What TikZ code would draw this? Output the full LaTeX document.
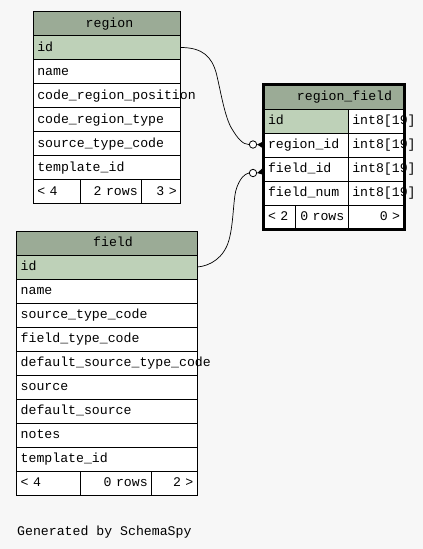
\documentclass[tikz,border=0pt]{standalone}
\usepackage{fontspec}
\setmonofont{Liberation Mono}
\usetikzlibrary{fit}
\definecolor{cbg}{HTML}{F7F7F7}
\definecolor{chead}{HTML}{9BAB96}
\definecolor{ckey}{HTML}{BED1B8}
\tikzset{
  every picture/.style={font=\ttfamily\fontsize{13.2}{15}\selectfont, line width=1pt},
  cell/.style={draw, fill=white, anchor=north west, inner xsep=4pt, inner ysep=0pt, outer sep=0pt,
    minimum height=24pt, text height=9.5pt, text depth=2.5pt, align=left, text width=#1},
  keycell/.style={cell=#1, fill=ckey},
  headcell/.style={cell=#1, fill=chead},
  tabtitle/.style={inner sep=0pt, text height=9.5pt, text depth=2.5pt},
  odot/.style={circle, draw, fill=white, line width=0.8pt, minimum size=7.4pt, inner sep=0pt},
  link/.style={line width=0.7pt},
}

\begin{document}
\begin{tikzpicture}[x=1pt, y=-1pt]
  \fill[cbg] (0,0) rectangle (423,549);
  \useasboundingbox (0,0) rectangle (423,549);

  % region
  \node[headcell=139.4pt] (region) at (33.3,11.5) {};
  \node[tabtitle] (region-title) at (109.5,23.5) {region};
  \node[keycell=139.4pt] (region-id) at (33.3,35.5) {id};
  \foreach \n/\lbl [count=\i from 2] in {name/name, pos/code\_region\_position, type/code\_region\_type,
      src/source\_type\_code, tpl/template\_id}
    \node[cell=139.4pt] (region-\n) at (33.3,11.5+24*\i) {\lbl};
  \node[cell=39pt] (region-prev) at (33.3,179.5) {< 4};
  \node[cell=53.4pt, align=right] (region-rows) at (80.3,179.5) {2 rows};
  \node[cell=31pt, align=right] (region-next) at (141.7,179.5) {3 >};

  % field
  \node[headcell=172.6pt] (field) at (16.7,231) {};
  \node[tabtitle] (field-title) at (113,243) {field};
  \node[keycell=172.6pt] (field-id) at (16.7,255) {id};
  \foreach \n/\lbl [count=\i from 2] in {name/name, src/source\_type\_code, ftype/field\_type\_code,
      dsrctype/default\_source\_type\_code, source/source, dsrc/default\_source, notes/notes, tpl/template\_id}
    \node[cell=172.6pt] (field-\n) at (16.7,231+24*\i) {\lbl};
  \node[cell=55.6pt] (field-prev) at (16.7,471) {< 4};
  \node[cell=63.4pt, align=right] (field-rows) at (80.3,471) {0 rows};
  \node[cell=37.6pt, align=right] (field-next) at (151.7,471) {2 >};

  % region_field
  \node[headcell=132pt] (rf) at (264,85) {};
  \node[tabtitle] (rf-title) at (344.5,97) {region\_field};
  \node[keycell=76.3pt] (rf-id) at (264,109) {id};
  \node[cell=47.7pt] (rf-id-type) at (348.3,109) {int8[19]};
  \foreach \n/\lbl [count=\i from 2] in {regid/region\_id, fid/field\_id, num/field\_num} {
    \node[cell=76.3pt] (rf-\n) at (264,85+24*\i) {\lbl};
    \node[cell=47.7pt] (rf-\n-type) at (348.3,85+24*\i) {int8[19]};
  }
  \node[cell=23.7pt] (rf-prev) at (264,205) {< 2};
  \node[cell=44.6pt, align=right] (rf-rows) at (295.7,205) {0 rows};
  \node[cell=47.7pt, align=right] (rf-next) at (348.3,205) {0 >};
  \node[fit=(rf)(rf-next), draw, line width=3pt, inner sep=0.5pt] (rf-frame) {};

  % relations
  \node[odot] (c-region) at (253,144.5) {};
  \node[odot] (c-field) at (253,173) {};
  \draw[link] (region-id.east) .. controls (203,47.5) and (212,57) .. (216.5,74)
    .. controls (221,93) and (225,118) .. (232,129) .. controls (238,139) and (243,144.5) .. (c-region.west);
  \fill (c-region.east) -- ([yshift=4pt]rf-regid.west) -- ([yshift=-4pt]rf-regid.west) -- cycle;
  \draw[link] (field-id.east) .. controls (210,266) and (224,258) .. (229,240)
    .. controls (234,222) and (233,196) .. (237,187) .. controls (240,179) and (244,174) .. (c-field.west);
  \fill (c-field.east) -- ([yshift=2pt]rf-fid.west) -- ([yshift=-6pt]rf-fid.west) -- cycle;

  \node[anchor=base west, inner sep=0pt] (credit) at (16.7,535) {Generated by SchemaSpy};
\end{tikzpicture}
\end{document}
